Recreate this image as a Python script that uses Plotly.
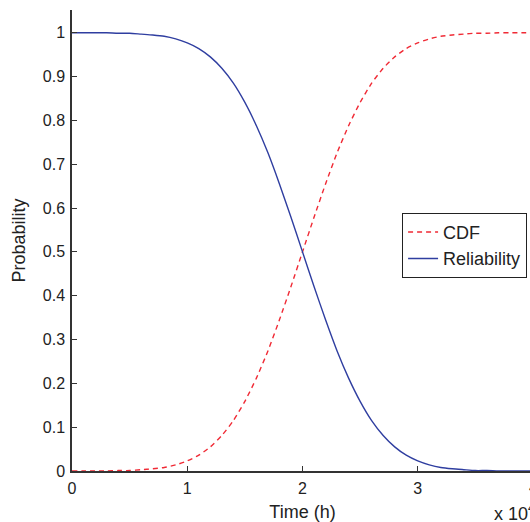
import plotly.graph_objects as go

# Time in units of 1e4 h
time_h = [0.0, 0.1, 0.2, 0.3, 0.4, 0.5, 0.6, 0.7, 0.8, 0.9,
          1.0, 1.1, 1.2, 1.3, 1.4, 1.5, 1.6, 1.7, 1.8, 1.9,
          2.0, 2.1, 2.2, 2.3, 2.4, 2.5, 2.6, 2.7, 2.8, 2.9,
          3.0, 3.1, 3.2, 3.3, 3.4, 3.5, 3.6, 3.7, 3.8, 3.9, 4.0]
cdf = [0.000, 0.000, 0.000, 0.000, 0.001, 0.001, 0.003, 0.005, 0.008, 0.014,
       0.023, 0.036, 0.055, 0.081, 0.115, 0.159, 0.212, 0.274, 0.345, 0.421,
       0.500, 0.579, 0.655, 0.726, 0.788, 0.841, 0.885, 0.919, 0.945, 0.964,
       0.977, 0.986, 0.992, 0.995, 0.997, 0.999, 0.999, 1.000, 1.000, 1.000, 1.000]
reliability = [1.000, 1.000, 1.000, 1.000, 0.999, 0.999, 0.997, 0.995, 0.992, 0.986,
               0.977, 0.964, 0.945, 0.919, 0.885, 0.841, 0.788, 0.726, 0.655, 0.579,
               0.500, 0.421, 0.345, 0.274, 0.212, 0.159, 0.115, 0.081, 0.055, 0.036,
               0.023, 0.014, 0.008, 0.005, 0.003, 0.001, 0.001, 0.000, 0.000, 0.000, 0.000]
x_ticks = [0, 1, 2, 3, 4]
x_tick_labels = ["0", "1", "2", "3", ""]
last_x_tick_label = "4"
y_ticks = [0, 0.1, 0.2, 0.3, 0.4, 0.5, 0.6, 0.7, 0.8, 0.9, 1.0]
y_tick_labels = ["0", "0.1", "0.2", "0.3", "0.4", "0.5", "0.6", "0.7", "0.8", "0.9", "1"]

FONT = "Liberation Sans, Arial, sans-serif"

fig = go.Figure()
fig.add_trace(go.Scatter(x=time_h, y=cdf, mode="lines", name="CDF",
                         line=dict(color="#f02a35", width=1.4, dash="5px,4px", shape="spline", smoothing=0.6)))
fig.add_trace(go.Scatter(x=time_h, y=reliability, mode="lines", name="Reliability",
                         line=dict(color="#2f3ea0", width=1.4, shape="spline", smoothing=0.6)))

fig.update_layout(
    width=533, height=522,
    margin=dict(l=72, r=0, t=10, b=51),
    paper_bgcolor="white", plot_bgcolor="white",
    font=dict(family=FONT, size=16, color="#222"),
    showlegend=True,
    legend=dict(x=0.716, y=0.56, xanchor="left", yanchor="top",
                bgcolor="white", bordercolor="#222", borderwidth=1,
                font=dict(size=18), itemwidth=30, tracegroupgap=0),
    xaxis=dict(range=[0, 4], tickvals=x_ticks, ticktext=x_tick_labels,
               ticks="inside", ticklen=5, tickcolor="#333", showline=True,
               linecolor="#333", linewidth=1.5, showgrid=False, zeroline=False,
               ticklabelstandoff=2,
               title=dict(text="Time (h)", standoff=9, font=dict(size=18))),
    yaxis=dict(range=[0, 1.052], tickvals=y_ticks, ticktext=y_tick_labels,
               ticks="inside", ticklen=5, tickcolor="#333", showline=True,
               linecolor="#333", linewidth=1.5, showgrid=False, zeroline=False,
               ticklabelstandoff=2,
               title=dict(text="Probability", standoff=12, font=dict(size=18))),
)
fig.add_annotation(text=last_x_tick_label, xref="x", yref="paper", x=x_ticks[-1], y=-0.013,
                   xanchor="center", yanchor="top", showarrow=False, font=dict(size=16))
fig.add_annotation(text="x 10<sup>4</sup>", xref="paper", yref="paper", x=0.911, y=-0.089,
                   xanchor="left", yanchor="middle", showarrow=False, font=dict(size=18))

fig.write_html(
    "out.html",
    config={"displayModeBar": False},
    post_script="document.body.style.margin='0';"
                "document.body.style.overflow='hidden';"
                "document.documentElement.style.overflow='hidden';",
)
